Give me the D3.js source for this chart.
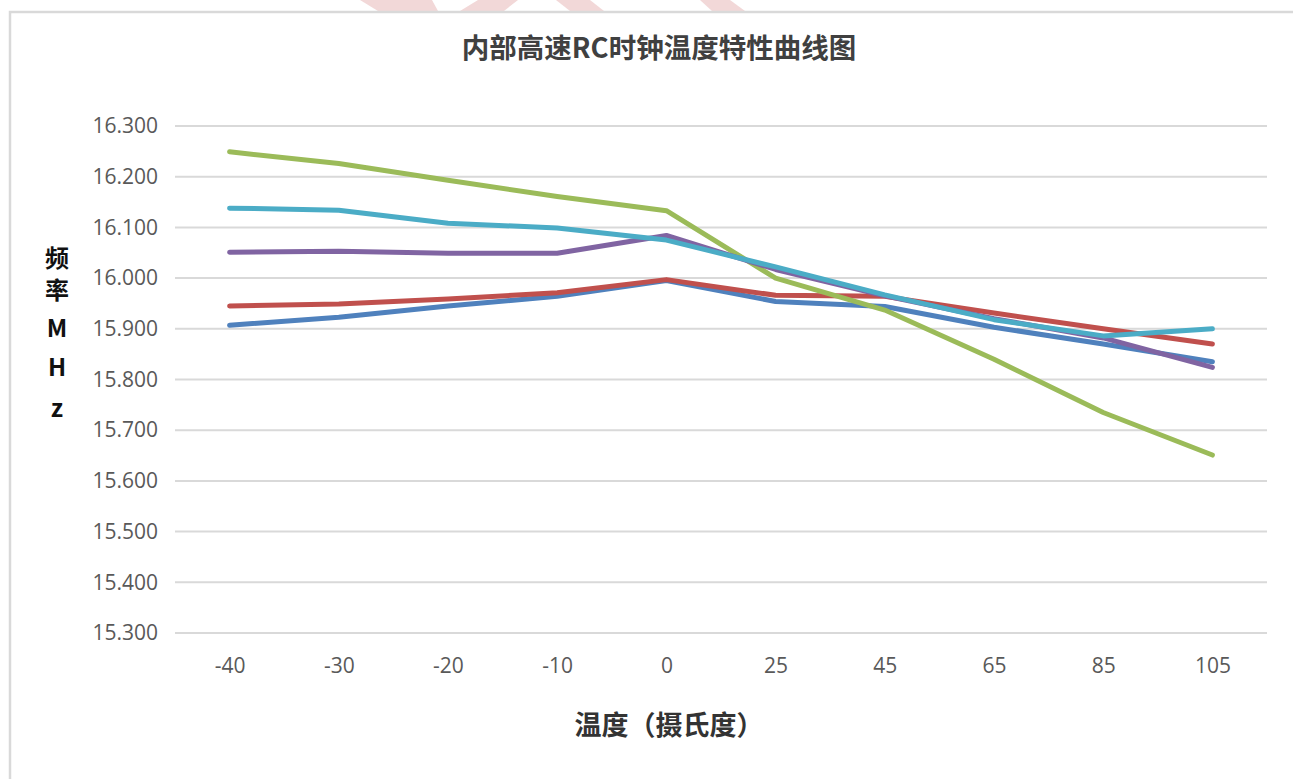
<!DOCTYPE html>
<html>
<head>
<meta charset="utf-8">
<script src="https://cdn.jsdelivr.net/npm/d3@7"></script>
<style>
body{margin:0;background:#fff;}
svg{display:block;}
</style>
</head>
<body>
<div id="chart"></div>
<script>
var w=1293, h=779

// data
var temps=["-40","-30","-20","-10","0","25","45","65","85","105"]
var yTicks=[15.3,15.4,15.5,15.6,15.7,15.8,15.9,16.0,16.1,16.2,16.3]
var blueVals=[15.907,15.923,15.945,15.964,15.995,15.954,15.944,15.903,15.870,15.835]
var redVals=[15.945,15.949,15.959,15.971,15.997,15.966,15.964,15.931,15.900,15.870]
var greenVals=[16.249,16.226,16.193,16.161,16.133,16.000,15.937,15.840,15.735,15.651]
var purpleVals=[16.051,16.053,16.049,16.049,16.084,16.017,15.965,15.920,15.882,15.824]
var cyanVals=[16.138,16.134,16.108,16.099,16.075,16.022,15.967,15.918,15.886,15.900]
var seriesList=[blueVals,redVals,greenVals,purpleVals,cyanVals]
var colors=["#4F81BD","#C0504D","#9BBB59","#8064A2","#4BACC6"]

var svg=d3.select("#chart")
.append("svg")
.attr("width",w)
.attr("height",h);

svg.append("rect")
.attr("width",w)
.attr("height",h)
.attr("fill","#fff");

// faint watermark bits above the frame
var marks=[[[360,0],[432,0],[438,11],[378,11]],[[460,11],[478,0],[518,0],[504,11]],[[556,0],[590,0],[604,11],[570,11]],[[700,0],[730,0],[745,11],[712,11]]]
svg.selectAll(".wm")
.data(marks)
.enter()
.append("path")
.attr("class","wm")
.attr("d",function(d){return "M"+d.join("L")+"Z";})
.attr("fill","#f2d8d8");

// chart frame
svg.append("path")
.attr("d","M10 779 L10 12 L1293 12")
.attr("fill","none")
.attr("stroke","#d9d9d9")
.attr("stroke-width",2.5);

var x=d3.scalePoint()
.domain(temps)
.range([175,1267])
.padding(0.5);

var y=d3.scaleLinear()
.domain([15.3,16.3])
.range([633,126]);

// gridlines
svg.append("g")
.selectAll("line")
.data(yTicks)
.enter()
.append("line")
.attr("x1",175)
.attr("x2",1267)
.attr("y1",function(d){return y(d);})
.attr("y2",function(d){return y(d);})
.attr("stroke","#d9d9d9")
.attr("stroke-width",2);

// y axis labels
var yAxis=d3.axisLeft(y)
.tickValues(yTicks)
.tickFormat(d3.format(".3f"))
.tickSize(0)
.tickPadding(0);

svg.append("g")
.attr("transform","translate(158,0)")
.call(yAxis)
.call(function(g){g.select(".domain").remove();})
.selectAll("text")
.attr("font-family","'Open Sans', sans-serif")
.attr("font-size","21px")
.attr("fill","#595959");

// x axis labels
var xAxis=d3.axisBottom(x)
.tickSize(0)
.tickPadding(0);

svg.append("g")
.attr("transform","translate(0,658)")
.call(xAxis)
.call(function(g){g.select(".domain").remove();})
.selectAll("text")
.attr("font-family","'Open Sans', sans-serif")
.attr("font-size","21px")
.attr("fill","#595959");

// series
var line=d3.line()
.x(function(d,i){return x(temps[i]);})
.y(function(d){return y(d);});

svg.selectAll(".series")
.data(seriesList)
.enter()
.append("path")
.attr("class","series")
.attr("d",line)
.attr("fill","none")
.attr("stroke",function(d,i){return colors[i];})
.attr("stroke-width",5)
.attr("stroke-linecap","round")
.attr("stroke-linejoin","round");

// title
svg.append("text")
.attr("x",659)
.attr("y",58)
.attr("text-anchor","middle")
.attr("font-family","'Noto Sans CJK SC', sans-serif")
.attr("font-weight","bold")
.attr("font-size","27.5px")
.attr("fill","#404040")
.text("内部高速RC时钟温度特性曲线图");

// x title
svg.append("text")
.attr("x",669)
.attr("y",735)
.attr("text-anchor","middle")
.attr("font-family","'Noto Sans CJK SC', sans-serif")
.attr("font-weight","bold")
.attr("font-size","27px")
.attr("fill","#333")
.text("温度（摄氏度）");

// y title, stacked
var yTitle=["频","率","M","H","z"]
var yTitlePos=[258,290,328,367,408]
svg.selectAll(".ytitle")
.data(yTitle)
.enter()
.append("text")
.attr("class","ytitle")
.attr("x",57)
.attr("y",function(d,i){return yTitlePos[i]+9;})
.attr("text-anchor","middle")
.attr("font-family","'Noto Sans CJK SC', sans-serif")
.attr("font-weight","bold")
.attr("font-size","24px")
.attr("fill","#111")
.text(function(d){return d;});
</script>
</body>
</html>
